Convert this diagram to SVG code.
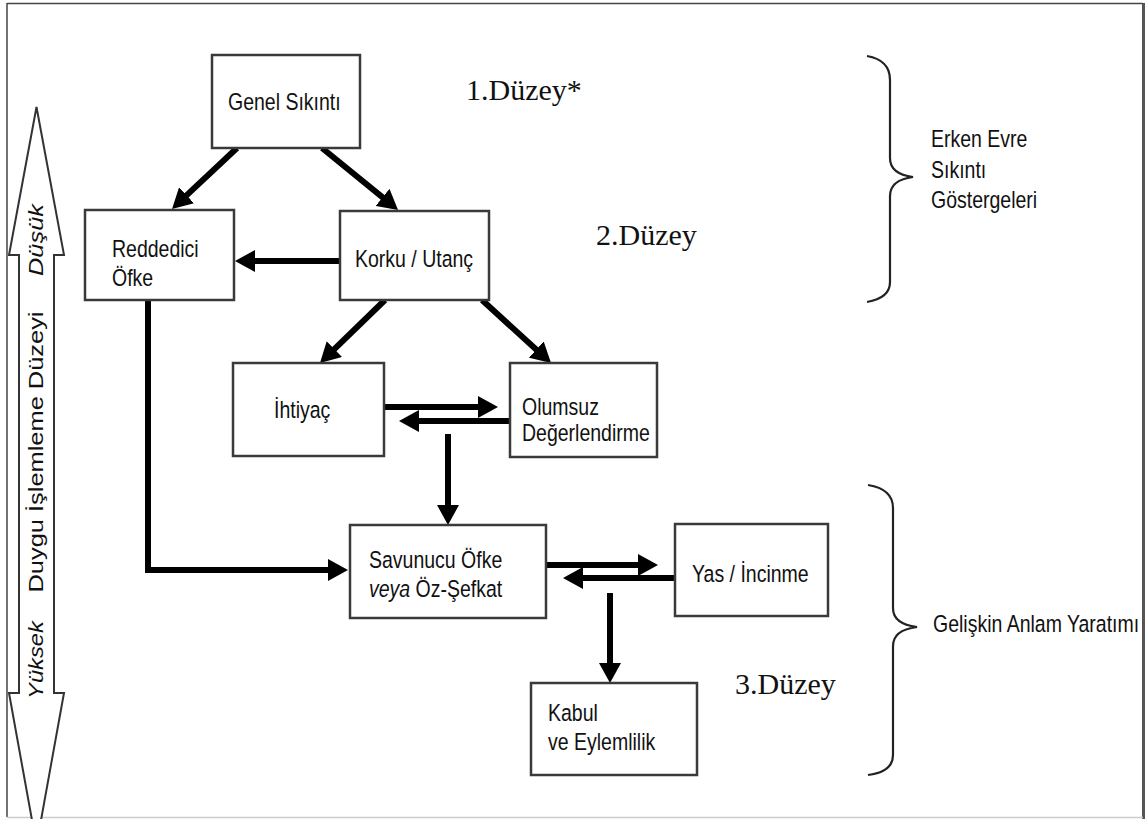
<svg xmlns="http://www.w3.org/2000/svg" width="1148" height="819" viewBox="0 0 1148 819">
<style>
.box{fill:#fff;stroke:#3a3a3a;stroke-width:2.5}
.t{font-family:"Liberation Sans",Arial,sans-serif;font-size:23.5px;fill:#111}
.ax{font-family:"Liberation Sans",Arial,sans-serif;font-size:20.5px;fill:#111}
.lv{font-family:"Liberation Serif","Times New Roman",serif;font-size:30px;fill:#111}
.c{fill:none;stroke:#000;stroke-width:6;marker-end:url(#ah)}
.br{fill:none;stroke:#222;stroke-width:2.2}
</style>
<defs>
<marker id="ah" markerUnits="userSpaceOnUse" markerWidth="20" markerHeight="22" refX="14" refY="11" orient="auto">
<path d="M0,0 L20,11 L0,22 z" fill="#000"/>
</marker>
</defs>
<rect x="0" y="0" width="1148" height="819" fill="#fff"/>
<g id="frame">
<line x1="7" y1="3" x2="7" y2="817" stroke="#444" stroke-width="1.5"/>
<line x1="7" y1="3.5" x2="1143" y2="3.5" stroke="#444" stroke-width="1.5"/>
<line x1="1143.5" y1="3" x2="1143.5" y2="819" stroke="#555" stroke-width="3"/>
<line x1="7" y1="817.5" x2="1143" y2="817.5" stroke="#ccc" stroke-width="1.5"/>
</g>
<g id="axis">
<path d="M36.5,107 L64,255 L54,255 L54,693 L64,693 L36.5,845 L9,693 L19,693 L19,255 L9,255 Z" fill="#fff" stroke="#333" stroke-width="2"/>
<text class="ax" font-style="italic" text-anchor="middle" transform="translate(42.5,240) rotate(-90) scale(1.24,1)">Düşük</text>
<text class="ax" text-anchor="middle" transform="translate(42.5,452) rotate(-90) scale(1.24,1)">Duygu İşlemleme Düzeyi</text>
<text class="ax" font-style="italic" text-anchor="middle" transform="translate(42.5,660) rotate(-90) scale(1.16,1)">Yüksek</text>
</g>
<g id="connectors">
<line class="c" x1="237" y1="148" x2="176.4" y2="204.9"/>
<line class="c" x1="322" y1="148" x2="393.4" y2="206.2"/>
<line class="c" x1="340" y1="261" x2="241" y2="261"/>
<polyline class="c" points="148,300 148,570 342,570"/>
<line class="c" x1="385" y1="300" x2="324.3" y2="358.8"/>
<line class="c" x1="482" y1="300" x2="546.6" y2="359"/>
<line class="c" x1="384" y1="407" x2="492" y2="407"/>
<line class="c" x1="510" y1="421" x2="405" y2="421"/>
<line class="c" x1="448" y1="434" x2="448" y2="519"/>
<line class="c" x1="546" y1="565" x2="652" y2="565"/>
<line class="c" x1="675" y1="578" x2="569" y2="578"/>
<line class="c" x1="610" y1="593" x2="610" y2="677"/>
</g>
<g id="genel">
<rect class="box" x="212" y="55" width="148" height="93"/>
<text class="t" transform="translate(228,110) scale(0.83,1)">Genel Sıkıntı</text>
</g>
<g id="reddedici">
<rect class="box" x="85" y="210" width="149" height="90"/>
<text class="t" transform="translate(112,257) scale(0.83,1)"><tspan x="0" y="0">Reddedici</tspan><tspan x="0" y="29">Öfke</tspan></text>
</g>
<g id="korku">
<rect class="box" x="340" y="211" width="149" height="89"/>
<text class="t" transform="translate(355,267) scale(0.83,1)">Korku / Utanç</text>
</g>
<g id="ihtiyac">
<rect class="box" x="233" y="363" width="151" height="93"/>
<text class="t" transform="translate(274,418) scale(0.83,1)">İhtiyaç</text>
</g>
<g id="olumsuz">
<rect class="box" x="510" y="363" width="147" height="94"/>
<text class="t" transform="translate(522,415) scale(0.83,1)"><tspan x="0" y="0">Olumsuz</tspan><tspan x="0" y="26">Değerlendirme</tspan></text>
</g>
<g id="savunucu">
<rect class="box" x="350" y="525" width="196" height="93"/>
<text class="t" transform="translate(369,568) scale(0.83,1)"><tspan x="0" y="0">Savunucu Öfke</tspan><tspan x="0" y="29" font-style="italic">veya</tspan><tspan> Öz-Şefkat</tspan></text>
</g>
<g id="yas">
<rect class="box" x="675" y="524" width="153" height="92"/>
<text class="t" transform="translate(692,582) scale(0.83,1)">Yas / İncinme</text>
</g>
<g id="kabul">
<rect class="box" x="531" y="683" width="166" height="92"/>
<text class="t" transform="translate(548,721) scale(0.83,1)"><tspan x="0" y="0">Kabul</tspan><tspan x="0" y="29">ve Eylemlilik</tspan></text>
</g>
<g id="levels">
<text class="lv" x="466" y="100">1.Düzey*</text>
<text class="lv" x="596" y="245">2.Düzey</text>
<text class="lv" x="735" y="694">3.Düzey</text>
</g>
<g id="brace-early">
<path class="br" d="M867,56 Q890,60 890,80 L890,158 Q890,174 913,177 Q890,180 890,196 L890,282 Q890,298 867,302"/>
<text class="t" transform="translate(931,147) scale(0.83,1)"><tspan x="0" y="0">Erken Evre</tspan><tspan x="0" y="31">Sıkıntı</tspan><tspan x="0" y="61">Göstergeleri</tspan></text>
</g>
<g id="brace-late">
<path class="br" d="M868,485 Q893,489 893,508 L893,608 Q893,624 917,627 Q893,630 893,646 L893,755 Q893,772 868,775"/>
<text class="t" transform="translate(933,632) scale(0.83,1)">Gelişkin Anlam Yaratımı</text>
</g>
</svg>
